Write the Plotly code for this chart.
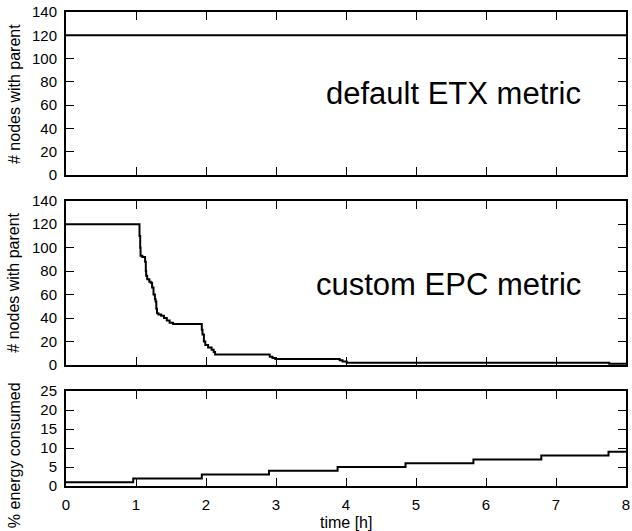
import plotly.graph_objects as go

# ---- data ----
etx_time = [0.0, 8.0]
etx_nodes = [120, 120]

epc_time = [0.0, 1.05, 1.06, 1.065, 1.09, 1.13, 1.14, 1.145, 1.16, 1.19, 1.21, 1.23, 1.25,
            1.27, 1.28, 1.29, 1.30, 1.32, 1.36, 1.40, 1.44, 1.48, 1.53, 1.94, 1.95, 1.97,
            1.99, 2.03, 2.08, 2.11, 2.13, 2.91, 2.95, 2.99, 3.91, 3.95, 4.01, 7.76, 8.0]
epc_nodes = [120, 110, 100, 93, 92, 88, 80, 76, 73, 71, 70, 66, 60,
             56, 54, 48, 44, 43, 42, 40, 38, 36, 35, 30, 26, 20,
             17, 15, 13, 11, 9, 7, 6, 5, 4, 3, 2, 1, 1]

energy_time = [0.0, 0.96, 1.94, 2.90, 3.88, 4.85, 5.82, 6.79, 7.75, 8.0]
energy_pct = [1, 2, 3, 4, 5, 6, 7, 8, 9, 9]

x_ticks = [0, 1, 2, 3, 4, 5, 6, 7, 8]
y_ticks_nodes = [0, 20, 40, 60, 80, 100, 120, 140]
y_ticks_energy = [0, 5, 10, 15, 20, 25]

FONT = "Liberation Sans, Arial, Helvetica, sans-serif"
line_style = dict(color="black", width=2, shape="hv")

fig = go.Figure()
fig.add_trace(go.Scatter(x=etx_time, y=etx_nodes, mode="lines", line=line_style,
                         xaxis="x", yaxis="y", showlegend=False, hoverinfo="skip"))
fig.add_trace(go.Scatter(x=epc_time, y=epc_nodes, mode="lines", line=line_style,
                         xaxis="x2", yaxis="y2", showlegend=False, hoverinfo="skip"))
fig.add_trace(go.Scatter(x=energy_time, y=energy_pct, mode="lines", line=line_style,
                         xaxis="x3", yaxis="y3", showlegend=False, hoverinfo="skip"))

def xax(show_labels, anchor):
    return dict(range=[0, 8], tickvals=x_ticks, showticklabels=show_labels,
                ticks="inside", ticklen=8, tickwidth=1, tickcolor="black",
                showline=True, linewidth=2, linecolor="black", mirror="ticks",
                showgrid=False, zeroline=False, anchor=anchor, automargin=False,
                ticklabelstandoff=4,
                tickfont=dict(size=15, color="black", family=FONT))

def yax(rng, vals, dom, anchor):
    return dict(range=rng, tickvals=vals, domain=dom,
                ticks="inside", ticklen=8, tickwidth=1, tickcolor="black",
                showline=True, linewidth=2, linecolor="black", mirror="ticks",
                showgrid=False, zeroline=False, anchor=anchor, automargin=False,
                ticklabelstandoff=4,
                tickfont=dict(size=15, color="black", family=FONT))

fig.update_layout(
    width=632, height=531,
    margin=dict(l=66, r=6, t=12, b=45, autoexpand=False),
    paper_bgcolor="white", plot_bgcolor="white",
    font=dict(family=FONT, color="black"),
    xaxis=xax(False, "y"),
    xaxis2=xax(False, "y2"),
    xaxis3=xax(True, "y3"),
    yaxis=yax([0, 140], y_ticks_nodes, [0.6561, 1.0], "x"),
    yaxis2=yax([0, 140], y_ticks_nodes, [0.2553, 0.6019], "x2"),
    yaxis3=yax([0, 25], y_ticks_energy, [0.0, 0.2004], "x3"),
)

def ytitle(text, y):
    fig.add_annotation(text=text, xref="paper", yref="paper", x=0, y=y,
                       xanchor="center", yanchor="middle", xshift=-52,
                       textangle=-90, showarrow=False,
                       font=dict(size=16, family=FONT, color="black"))

ytitle("# nodes with parent", 0.827)
ytitle("# nodes with parent", 0.429)
ytitle("% energy consumed", 0.065)

fig.add_annotation(text="time [h]", xref="paper", yref="paper", x=0.5, y=0,
                   xanchor="center", yanchor="middle", yshift=-36, showarrow=False,
                   font=dict(size=16, family=FONT, color="black"))

fig.add_annotation(text="default ETX metric", xref="x", yref="y", x=7.39, y=70,
                   xanchor="right", yanchor="middle", showarrow=False,
                   font=dict(size=31, family=FONT, color="black"))
fig.add_annotation(text="custom EPC metric", xref="x2", yref="y2", x=7.39, y=69,
                   xanchor="right", yanchor="middle", showarrow=False,
                   font=dict(size=31, family=FONT, color="black"))

fig.write_html("out.html", config={"displayModeBar": False},
               post_script="document.body.style.margin='0';")
